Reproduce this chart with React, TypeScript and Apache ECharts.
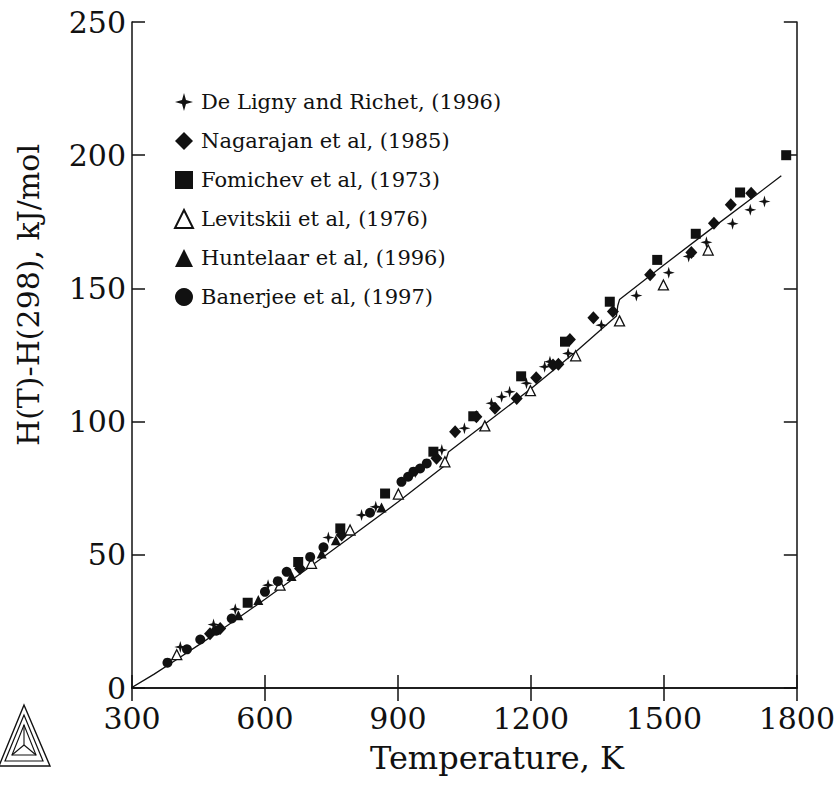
import React, { useEffect, useRef } from "react";
import * as echarts from "echarts";

// ---- data ----
const xMin = 300;
const xMax = 1800;
const xStep = 300;
const yMin = 0;
const yMax = 250;
const yStep = 50;

const xName = "Temperature, K";
const yName = "H(T)-H(298), kJ/mol";

const seriesNames = [
  "De Ligny and Richet, (1996)",
  "Nagarajan et al, (1985)",
  "Fomichev et al, (1973)",
  "Levitskii et al, (1976)",
  "Huntelaar et al, (1996)",
  "Banerjee et al, (1997)",
];

const calculated: [number, number][] = [
  [298, 0], [350, 5.2], [400, 10.6], [450, 16.1], [500, 21.7], [600, 33.3],
  [700, 45.3], [800, 57.5], [900, 69.8], [1006, 83.5], [1010, 86.5], [1014, 88.6],
  [1100, 99.6], [1200, 112.3], [1300, 126], [1393, 139.6], [1396, 143.5],
  [1400, 145.8], [1500, 158.8], [1600, 171.5], [1700, 184], [1765, 192.3],
];

const deLigny: [number, number][] = [
  [409, 15.4], [484, 23.8], [533, 29.6], [607, 38.6], [743, 56.5], [818, 64.9],
  [850, 68], [940, 81], [999, 89.3], [1050, 97.5], [1111, 106.9], [1134, 109.3],
  [1152, 111.2], [1190, 114.4], [1231, 120.6], [1243, 122.5], [1284, 125.6],
  [1359, 136.2], [1438, 147.3], [1511, 155.9], [1556, 162], [1596, 167.3],
  [1655, 174.3], [1695, 179.5], [1727, 182.6],
];

const nagarajan: [number, number][] = [
  [476, 20.4], [499, 22.3], [679, 44.9], [773, 57.4], [987, 86.2], [1029, 96.2],
  [1077, 101.8], [1119, 105], [1168, 108.7], [1212, 116.5], [1250, 121.2],
  [1262, 121.5], [1288, 130.8], [1341, 139], [1385, 141.3], [1469, 155.1],
  [1562, 163.5], [1613, 174.5], [1651, 181.4], [1697, 185.7],
];

const fomichev: [number, number][] = [
  [561, 32], [675, 47.3], [770, 59.9], [871, 73], [980, 88.7], [1070, 102],
  [1178, 117], [1277, 130], [1378, 145], [1485, 160.7], [1572, 170.5],
  [1672, 186], [1776, 200],
];

const levitskii: [number, number][] = [
  [401, 12.5], [634, 38.6], [705, 46.8], [792, 59.3], [901, 72.8], [1006, 84.9],
  [1096, 98.4], [1199, 111.6], [1301, 124.7], [1400, 137.8], [1499, 151.3],
  [1600, 164.4],
];

const huntelaar: [number, number][] = [
  [540, 27.3], [585, 33], [660, 42], [728, 50.5], [760, 55.5], [863, 67.8],
];

const banerjee: [number, number][] = [
  [380, 9.5], [424, 14.5], [454, 18.2], [490, 21.5], [525, 26.1], [600, 36.1],
  [629, 40.1], [649, 43.6], [702, 49.2], [732, 52.8], [837, 65.8], [908, 77.4],
  [923, 79.3], [935, 81.2], [950, 82.4], [965, 84.3],
];

const starPath =
  "path://M0,-10L2.2,-2.2L10,0L2.2,2.2L0,10L-2.2,2.2L-10,0L-2.2,-2.2Z";

const FONT = "DejaVu Serif";
const INK = "#111111";

export default function App() {
  const ref = useRef<HTMLDivElement>(null);

  useEffect(() => {
    if (!ref.current) return;
    const chart = echarts.init(ref.current, undefined, { renderer: "svg" });

    const axisLine = { show: true, lineStyle: { color: INK, width: 1.5 } };
    const axisTick = { show: true, inside: true, length: 13, lineStyle: { color: INK, width: 1.5 } };
    const plain = (v: number) => String(v);

    const scatterBase = (name: string, data: [number, number][], symbol: string, size: number | number[], hollow = false) => ({
      name,
      type: "scatter",
      data,
      symbol,
      symbolSize: size,
      itemStyle: hollow
        ? { color: "#ffffff", borderColor: INK, borderWidth: 1.3, opacity: 1 }
        : { color: INK, opacity: 1 },
      z: 3,
    });

    const option: any = {
      animation: false,
      backgroundColor: "#ffffff",
      grid: { left: 132, right: 41, top: 22, bottom: 99, containLabel: false },
      legend: {
        orient: "vertical",
        left: 169,
        top: 86,
        itemWidth: 18,
        itemHeight: 18,
        itemGap: 17,
        textStyle: {
          fontFamily: FONT,
          fontSize: 21,
          lineHeight: 22,
          color: INK,
          padding: [0, 0, 0, 3],
        },
        data: [
          { name: seriesNames[0], icon: starPath },
          { name: seriesNames[1], icon: "diamond" },
          { name: seriesNames[2], icon: "rect" },
          { name: seriesNames[3], icon: "triangle" },
          { name: seriesNames[4], icon: "triangle" },
          { name: seriesNames[5], icon: "circle" },
        ],
      },
      xAxis: [
        {
          type: "value",
          position: "bottom",
          min: xMin,
          max: xMax,
          interval: xStep,
          axisLine,
          axisTick,
          axisLabel: { fontFamily: FONT, fontSize: 30, lineHeight: 24, color: INK, margin: 18, formatter: plain },
          splitLine: { show: false },
        },
        {
          type: "value",
          position: "top",
          min: xMin,
          max: xMax,
          interval: xStep,
          axisLine,
          axisTick,
          axisLabel: { show: false },
          splitLine: { show: false },
        },
      ],
      yAxis: [
        {
          type: "value",
          position: "left",
          min: yMin,
          max: yMax,
          interval: yStep,
          axisLine,
          axisTick,
          axisLabel: { fontFamily: FONT, fontSize: 30, lineHeight: 22, color: INK, margin: 6, formatter: plain },
          splitLine: { show: false },
        },
        {
          type: "value",
          position: "right",
          min: yMin,
          max: yMax,
          interval: yStep,
          axisLine,
          axisTick,
          axisLabel: { show: false },
          splitLine: { show: false },
        },
      ],
      graphic: [
        {
          type: "text",
          x: 28,
          y: 295,
          rotation: Math.PI / 2,
          style: {
            text: yName,
            fontFamily: FONT,
            fontSize: 30,
            fill: INK,
            align: "center",
            verticalAlign: "middle",
          },
        },
        {
          type: "text",
          x: 497,
          y: 758,
          style: {
            text: xName,
            fontFamily: FONT,
            fontSize: 32,
            fill: INK,
            align: "center",
            verticalAlign: "middle",
          },
        },
        {
          type: "group",
          children: [
            { type: "polygon", shape: { points: [[24, 705], [-1, 766], [50, 766]] }, style: { fill: "none", stroke: INK, lineWidth: 1.4 } },
            { type: "polygon", shape: { points: [[24, 715], [5, 761], [43, 761]] }, style: { fill: "none", stroke: INK, lineWidth: 1.2 } },
            { type: "polygon", shape: { points: [[24, 725], [12, 755], [36, 755]] }, style: { fill: "none", stroke: INK, lineWidth: 1.1 } },
            { type: "line", shape: { x1: 24, y1: 745, x2: 24, y2: 725 }, style: { stroke: INK, lineWidth: 1.1 } },
            { type: "line", shape: { x1: 24, y1: 745, x2: 12, y2: 755 }, style: { stroke: INK, lineWidth: 1.1 } },
            { type: "line", shape: { x1: 24, y1: 745, x2: 36, y2: 755 }, style: { stroke: INK, lineWidth: 1.1 } },
          ],
        },
      ],
      series: [
        {
          name: "Calculated",
          type: "line",
          data: calculated,
          showSymbol: false,
          symbol: "none",
          lineStyle: { color: INK, width: 1.3 },
          z: 2,
        },
        scatterBase(seriesNames[0], deLigny, starPath, 12),
        scatterBase(seriesNames[1], nagarajan, "diamond", [12, 13]),
        scatterBase(seriesNames[2], fomichev, "rect", 10),
        scatterBase(seriesNames[3], levitskii, "triangle", 10, true),
        scatterBase(seriesNames[4], huntelaar, "triangle", 10),
        scatterBase(seriesNames[5], banerjee, "circle", 10),
      ],
    };

    chart.setOption(option);
    return () => chart.dispose();
  }, []);

  return (
    <div
      ref={ref}
      style={{ position: "absolute", left: 0, top: 0, width: 838, height: 787 }}
    />
  );
}
